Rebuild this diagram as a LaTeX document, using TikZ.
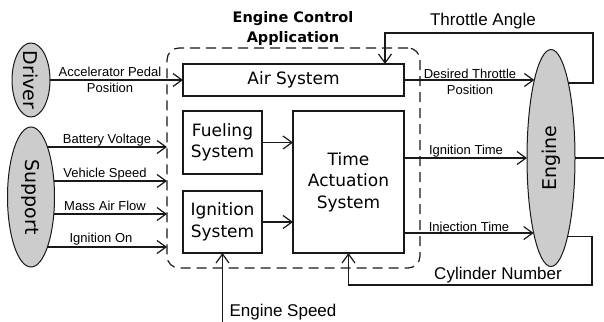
\documentclass[tikz,border=0pt]{standalone}
\usepackage{fontspec}
\setmainfont{Liberation Sans}
\newfontfamily\dejavu{DejaVu Sans}
\usetikzlibrary{shapes.geometric,arrows.meta,backgrounds}
\begin{document}
\begin{tikzpicture}[x=1pt,y=-1pt,
  lbl/.style={font=\fontsize{13}{16}\selectfont, anchor=base, inner sep=0pt, align=center},
  biglbl/.style={font=\fontsize{17}{20}\selectfont, anchor=base, inner sep=0pt},
  ttl/.style={font=\dejavu\bfseries\fontsize{14.5}{20}\selectfont, anchor=base, inner sep=0pt, align=center},
  blk/.style={draw=black!90, rectangle, line width=1.3pt, inner sep=0pt, outer sep=0pt, font=\dejavu\fontsize{17}{21.5}\selectfont, align=center},
  actor/.style={draw=black!90, ellipse, fill=black!20, line width=1pt, inner sep=0pt, outer sep=0pt},
  actortxt/.style={font=\dejavu\fontsize{19}{22}\selectfont, inner sep=0pt},
  sig/.style={draw=black!90, -{Straight Barb[length=9pt,width=13pt]}, line width=1.2pt},
  ecubox/.style={draw=black!90, rectangle, rounded corners=12pt, dash pattern=on 10pt off 6pt, line width=1.2pt, inner sep=0pt, outer sep=0pt}
]
\useasboundingbox (0,0) rectangle (604,321);

% boundary
\node[ecubox, minimum width=253pt, minimum height=220pt] (ecu) at (293.5,158) {};

% blocks
\node[blk, minimum width=221pt, minimum height=32pt] (air) at (293.5,80) {Air System};
\node[blk, minimum width=79pt, minimum height=63pt] (fuel) at (222.5,142.5) {Fueling\\System};
\node[blk, minimum width=79pt, minimum height=62pt] (ign) at (222.5,222) {Ignition\\System};
\node[blk, minimum width=111pt, minimum height=142pt] (tas) at (348.5,182) {Time\\Actuation\\System};

% actors
\node[actor, minimum width=38pt, minimum height=74pt] (drv) at (31,80) {};
\node[actortxt, rotate=-90] (drvt) at (drv.center) {Driver};
\node[actor, minimum width=47pt, minimum height=140pt] (sup) at (31,197) {};
\node[actortxt, rotate=-90] (supt) at (sup.center) {Support};
\node[actor, minimum width=48pt, minimum height=217pt] (eng) at (551,158) {};
\node[actortxt, rotate=90] (engt) at (eng.center) {Engine};

% helper coordinates
\coordinate (bv) at (167,147);
\coordinate (vs) at (167,181);
\coordinate (maf) at (167,214);
\coordinate (io) at (167,247);
\coordinate (bot) at (0,322);
\coordinate (rgt) at (605,0);
\coordinate (tr) at (593,33);
\coordinate (tl) at (385,33);
\coordinate (cb) at (592,285);

\begin{scope}[on background layer]
  \draw[sig] (bv -| sup.center) -- (bv);
  \draw[sig] (vs -| sup.center) -- (vs);
  \draw[sig] (maf -| sup.center) -- (maf);
  \draw[sig] (io -| sup.center) -- (io);
\end{scope}

% connectors
\draw[sig] (drv.east) -- (air.west);
\draw[sig] (fuel.east) -- (fuel.east -| tas.west);
\draw[sig] (ign.east) -- (ign.east -| tas.west);
\draw[sig] (ign.south |- bot) -- (ign.south);
\draw[sig] (air.east) -- (air.east -| eng.102.07);
\draw[sig] (eng.77.93) -| (tr) -- (tl) -- (tl |- air.north);
\draw[sig] (tas.east |- eng.west) -- (eng.west);
\draw[draw=black!90, line width=1.2pt] (eng.east) -- (eng.east -| rgt);
\draw[sig] (tas.east |- eng.257.6) -- (eng.257.6);
\draw[sig] (eng.282.4) -| (cb) -- (cb -| tas.south) -- (tas.south);

% labels
\node[ttl] (title) at (293,42) {Engine Control\\Application};
\node[lbl] (lapp) at (110,92) {Accelerator Pedal\\Position};
\node[lbl] (lbv) at (107,143) {Battery Voltage};
\node[lbl] (lvs) at (105,177) {Vehicle Speed};
\node[lbl] (lmaf) at (105,210.5) {Mass Air Flow};
\node[lbl] (lio) at (101,242) {Ignition On};
\node[lbl] (ldtp) at (470,94) {Desired Throttle\\Position};
\node[lbl] (lit) at (466,154.5) {Ignition Time};
\node[lbl] (linj) at (469,231) {Injection Time};
\node[biglbl] (lta) at (483,26) {Throttle Angle};
\node[biglbl] (lcn) at (498,279.5) {Cylinder Number};
\node[biglbl] (les) at (283,316) {Engine Speed};
\end{tikzpicture}
\end{document}
